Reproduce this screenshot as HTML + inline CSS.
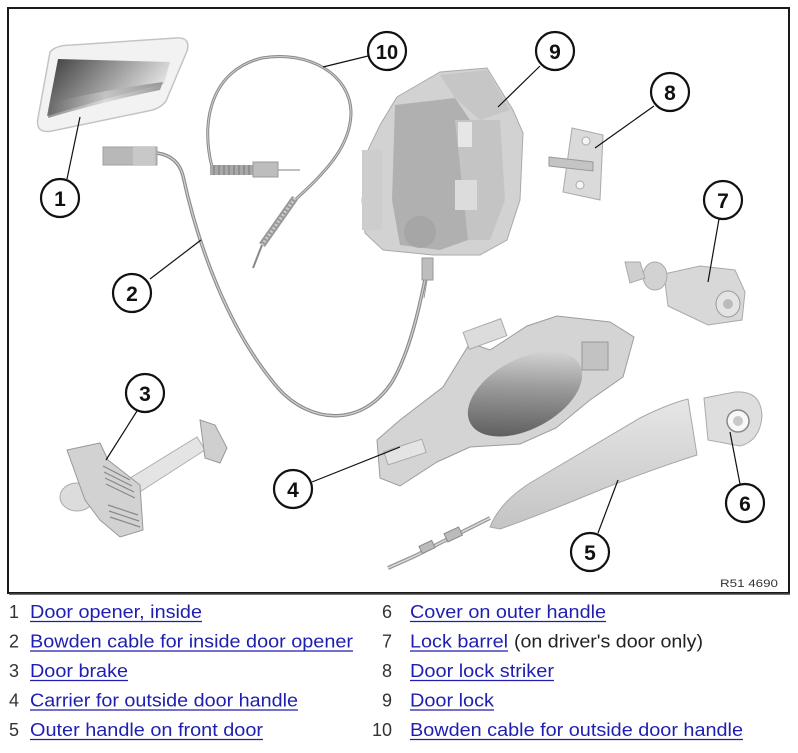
<!DOCTYPE html>
<html><head><meta charset="utf-8"><style>
html,body{margin:0;padding:0;background:#fff;}
body{width:798px;height:753px;overflow:hidden;}
svg{display:block;}
</style></head><body>
<svg width="798" height="753" viewBox="0 0 798 753" xmlns="http://www.w3.org/2000/svg">
<defs>
<linearGradient id="g1" x1="0" y1="0" x2="1" y2="0.4">
<stop offset="0" stop-color="#3a3a3a"/><stop offset="0.45" stop-color="#8a8a8a"/><stop offset="1" stop-color="#e8e8e8"/></linearGradient>
<linearGradient id="g1b" x1="0" y1="0" x2="1" y2="0">
<stop offset="0" stop-color="#666"/><stop offset="0.5" stop-color="#d0d0d0"/><stop offset="1" stop-color="#777"/></linearGradient>
<linearGradient id="g4" x1="0" y1="1" x2="1" y2="0">
<stop offset="0" stop-color="#4a4a4a"/><stop offset="0.55" stop-color="#9a9a9a"/><stop offset="1" stop-color="#eeeeee"/></linearGradient>
<linearGradient id="g5" x1="0" y1="0" x2="0" y2="1">
<stop offset="0" stop-color="#e6e6e6"/><stop offset="1" stop-color="#c4c4c4"/></linearGradient>
</defs>

<!-- frame -->
<rect x="8" y="8" width="781" height="585" fill="#fff" stroke="#1a1a1a" stroke-width="2"/>
<line x1="9" y1="594" x2="790" y2="594" stroke="#444" stroke-width="1.5"/>

<!-- Part 1: inside door opener -->
<path d="M50,52 Q56,45 72,45 L176,38 Q191,37 187,51 L166,101 Q160,109 148,111 L52,131 Q35,134 38,118 Z" fill="#f2f2f2" stroke="#c4c4c4" stroke-width="1.5"/>
<path d="M58,59 L170,62 L164,84 Q130,92 95,102 L47,116 Z" fill="url(#g1)"/>
<path d="M50,104 Q90,92 163,82 L160,90 Q110,100 48,118 Z" fill="url(#g1b)" opacity="0.7"/>

<!-- Part 2: inside Bowden cable -->
<rect x="103" y="147" width="54" height="18" fill="#b8b8b8" stroke="#a0a0a0"/>
<rect x="133" y="147" width="22" height="18" fill="#c8c8c8"/>
<path d="M157,153 Q178,156 183,176 C198,245 228,330 278,388 C310,424 362,428 392,382 C410,352 420,305 427,270" fill="none" stroke="#8a8a8a" stroke-width="3.5"/>
<path d="M157,153 Q178,156 183,176 C198,245 228,330 278,388 C310,424 362,428 392,382 C410,352 420,305 427,270" fill="none" stroke="#cfcfcf" stroke-width="1.3"/>

<!-- Part 10: outside Bowden cable -->
<path d="M212,167 C200,120 212,70 262,58 C310,50 350,75 351,112 C351,148 322,175 295,200" fill="none" stroke="#8a8a8a" stroke-width="3"/>
<path d="M212,167 C200,120 212,70 262,58 C310,50 350,75 351,112 C351,148 322,175 295,200" fill="none" stroke="#d0d0d0" stroke-width="1"/>
<rect x="210" y="165" width="44" height="10" fill="#a8a8a8"/>
<g stroke="#777" stroke-width="1">
<line x1="214" y1="165" x2="214" y2="175"/><line x1="219" y1="165" x2="219" y2="175"/><line x1="224" y1="165" x2="224" y2="175"/><line x1="229" y1="165" x2="229" y2="175"/><line x1="234" y1="165" x2="234" y2="175"/><line x1="239" y1="165" x2="239" y2="175"/><line x1="244" y1="165" x2="244" y2="175"/><line x1="249" y1="165" x2="249" y2="175"/></g>
<rect x="253" y="162" width="25" height="15" fill="#bdbdbd" stroke="#999"/>
<line x1="278" y1="170" x2="300" y2="170" stroke="#999" stroke-width="1.2"/>
<path d="M295,198 L262,245" stroke="#9a9a9a" stroke-width="7"/>
<path d="M295,198 L262,245" stroke="#cfcfcf" stroke-width="3" stroke-dasharray="2 2"/>
<line x1="262" y1="245" x2="253" y2="268" stroke="#888" stroke-width="2"/>

<!-- Part 9: door lock -->
<path d="M365,233 L362,200 L368,150 L380,125 L397,97 L440,72 L487,68 L513,110 L523,133 L520,200 L507,240 L480,255 L433,255 L383,250 Z" fill="#d2d2d2" stroke="#aaa" stroke-width="1"/>
<path d="M395,105 L455,98 L470,120 L468,240 L440,250 L400,245 L392,200 Z" fill="#b0b0b0"/>
<path d="M455,120 L500,120 L505,200 L490,240 L468,240 Z" fill="#c4c4c4"/>
<circle cx="420" cy="232" r="16" fill="#a6a6a6"/>
<rect x="455" y="180" width="22" height="30" fill="#dcdcdc"/>
<rect x="458" y="122" width="14" height="25" fill="#e6e6e6"/>
<rect x="362" y="150" width="20" height="80" fill="#cdcdcd"/>
<path d="M440,75 L487,70 L510,110 L480,120 L455,98 Z" fill="#c6c6c6"/>
<rect x="422" y="258" width="11" height="22" fill="#bdbdbd" stroke="#999"/>
<line x1="427" y1="280" x2="424" y2="298" stroke="#999" stroke-width="1"/>

<!-- Part 8: striker -->
<path d="M572,128 L603,135 L600,200 L563,192 Z" fill="#dadada" stroke="#aaa"/>
<path d="M549,157 L593,162 L593,171 L549,166 Z" fill="#c4c4c4" stroke="#999"/>
<circle cx="586" cy="141" r="4" fill="#f4f4f4" stroke="#aaa"/>
<circle cx="580" cy="185" r="4" fill="#f4f4f4" stroke="#aaa"/>

<!-- Part 7: lock barrel -->
<path d="M664,274 L700,266 L735,270 L745,292 L742,320 L708,325 L668,306 Z" fill="#d8d8d8" stroke="#aaa"/>
<ellipse cx="655" cy="276" rx="12" ry="14" fill="#d2d2d2" stroke="#aaa"/>
<path d="M625,262 L640,262 L645,278 L630,283 Z" fill="#cfcfcf" stroke="#aaa"/>
<ellipse cx="728" cy="304" rx="12" ry="13" fill="#e4e4e4" stroke="#999"/>
<circle cx="728" cy="304" r="5" fill="#bbb"/>

<!-- Part 4: carrier -->
<path d="M377,440 L380,478 L400,486 L437,462 L470,447 L520,444 L556,428 L590,400 L623,377 L634,337 L610,322 L557,316 L527,326 L490,350 L470,343 L443,387 L400,420 Z" fill="#d4d4d4" stroke="#9c9c9c"/>
<rect x="465" y="325" width="40" height="18" fill="#dcdcdc" stroke="#aaa" transform="rotate(-20 485 334)"/>
<ellipse cx="525" cy="394" rx="62" ry="35" transform="rotate(-28 525 394)" fill="url(#g4)"/>
<rect x="385" y="445" width="40" height="14" fill="#e4e4e4" stroke="#aaa" transform="rotate(-18 405 452)"/>
<rect x="582" y="342" width="26" height="28" fill="#c2c2c2" stroke="#999"/>

<!-- Part 5: outer handle -->
<path d="M490,527 Q500,502 530,483 L640,418 Q668,404 688,399 L697,455 Q650,470 600,490 Q540,515 500,529 Z" fill="url(#g5)" stroke="#a8a8a8"/>
<path d="M490,518 L470,528 L440,543 L415,556 L388,568" stroke="#999" stroke-width="4" fill="none"/>
<path d="M490,518 L470,528 L440,543 L415,556 L388,568" stroke="#ddd" stroke-width="1.5" fill="none"/>
<rect x="445" y="530" width="16" height="9" fill="#bbb" stroke="#888" transform="rotate(-25 453 534)"/>
<rect x="420" y="543" width="14" height="8" fill="#bbb" stroke="#888" transform="rotate(-25 427 547)"/>

<!-- Part 6: cover -->
<path d="M704,398 L735,392 Q761,390 762,416 Q760,441 740,446 L708,440 Z" fill="#dedede" stroke="#aaa"/>
<circle cx="738" cy="421" r="11" fill="#f8f8f8" stroke="#888" stroke-width="1.5"/>
<circle cx="738" cy="421" r="5" fill="#c8c8c8"/>

<!-- Part 3: door brake -->
<path d="M127,480 L197,437 L205,450 L135,495 Z" fill="#e4e4e4" stroke="#b0b0b0"/>
<path d="M200,420 L215,425 L227,448 L220,463 L205,458 Z" fill="#cfcfcf" stroke="#999"/>
<ellipse cx="77" cy="497" rx="17" ry="14" fill="#dcdcdc" stroke="#aaa"/>
<path d="M67,450 L100,443 L108,460 L140,485 L143,530 L120,537 L100,520 L85,500 Z" fill="#d2d2d2" stroke="#999"/>
<g stroke="#888" stroke-width="1.2">
<line x1="103" y1="466" x2="130" y2="480"/><line x1="104" y1="472" x2="132" y2="486"/><line x1="105" y1="478" x2="134" y2="492"/><line x1="106" y1="484" x2="135" y2="498"/><line x1="108" y1="505" x2="138" y2="515"/><line x1="109" y1="511" x2="139" y2="521"/><line x1="110" y1="517" x2="140" y2="527"/></g>

<!-- leader lines -->
<g stroke="#111" stroke-width="1.2">
<line x1="67" y1="179" x2="80" y2="117"/>
<line x1="150" y1="279" x2="201" y2="240"/>
<line x1="137" y1="411" x2="106" y2="460"/>
<line x1="312" y1="482" x2="400" y2="447"/>
<line x1="598" y1="533" x2="618" y2="480"/>
<line x1="740" y1="484" x2="730" y2="432"/>
<line x1="719" y1="219" x2="708" y2="282"/>
<line x1="654" y1="106" x2="595" y2="148"/>
<line x1="540" y1="66" x2="498" y2="107"/>
<line x1="368" y1="56" x2="323" y2="67"/>
</g>

<!-- callout circles -->
<g fill="#fff" stroke="#111" stroke-width="2.2">
<circle cx="60" cy="198" r="19"/>
<circle cx="132" cy="293" r="19"/>
<circle cx="145" cy="393" r="19"/>
<circle cx="293" cy="489" r="19"/>
<circle cx="590" cy="552" r="19"/>
<circle cx="745" cy="503" r="19"/>
<circle cx="723" cy="200" r="19"/>
<circle cx="670" cy="92" r="19"/>
<circle cx="555" cy="51" r="19"/>
<circle cx="387" cy="51" r="19"/>
</g>
<g font-family="Liberation Sans, Arial, sans-serif" font-weight="bold" font-size="21" fill="#111" text-anchor="middle">
<text x="60" y="206">1</text>
<text x="132" y="301">2</text>
<text x="145" y="401">3</text>
<text x="293" y="497">4</text>
<text x="590" y="560">5</text>
<text x="745" y="511">6</text>
<text x="723" y="208">7</text>
<text x="670" y="100">8</text>
<text x="555" y="59">9</text>
<text x="387" y="59" font-size="20">10</text>
</g>

<text x="720" y="587" font-family="Liberation Sans, Arial, sans-serif" font-size="11" fill="#333" textLength="58" lengthAdjust="spacingAndGlyphs">R51 4690</text>

<!-- legend -->
<g font-family="Liberation Sans, Arial, sans-serif" font-size="18" fill="#333" text-anchor="end">
<text x="19" y="618">1</text>
<text x="19" y="647.5">2</text>
<text x="19" y="677">3</text>
<text x="19" y="706.5">4</text>
<text x="19" y="736">5</text>
<text x="392" y="618">6</text>
<text x="392" y="647.5">7</text>
<text x="392" y="677">8</text>
<text x="392" y="706.5">9</text>
<text x="392" y="736">10</text>
</g>
<g font-family="Liberation Sans, Arial, sans-serif" font-size="18" fill="#1e1eb0">
<text x="30" y="618" textLength="172" lengthAdjust="spacingAndGlyphs">Door opener, inside</text>
<text x="30" y="647.5" textLength="323" lengthAdjust="spacingAndGlyphs">Bowden cable for inside door opener</text>
<text x="30" y="677" textLength="98" lengthAdjust="spacingAndGlyphs">Door brake</text>
<text x="30" y="706.5" textLength="268" lengthAdjust="spacingAndGlyphs">Carrier for outside door handle</text>
<text x="30" y="736" textLength="233" lengthAdjust="spacingAndGlyphs">Outer handle on front door</text>
<text x="410" y="618" textLength="196" lengthAdjust="spacingAndGlyphs">Cover on outer handle</text>
<text x="410" y="647.5" textLength="98" lengthAdjust="spacingAndGlyphs">Lock barrel</text>
<text x="410" y="677" textLength="144" lengthAdjust="spacingAndGlyphs">Door lock striker</text>
<text x="410" y="706.5" textLength="84" lengthAdjust="spacingAndGlyphs">Door lock</text>
<text x="410" y="736" textLength="333" lengthAdjust="spacingAndGlyphs">Bowden cable for outside door handle</text>
</g>
<text x="514" y="647.5" font-family="Liberation Sans, Arial, sans-serif" font-size="18" fill="#222" textLength="189" lengthAdjust="spacingAndGlyphs">(on driver's door only)</text>
<g stroke="#1e1eb0" stroke-width="1.3">
<line x1="30" y1="621.5" x2="202" y2="621.5"/>
<line x1="30" y1="651" x2="353" y2="651"/>
<line x1="30" y1="680.5" x2="128" y2="680.5"/>
<line x1="30" y1="710" x2="298" y2="710"/>
<line x1="30" y1="739.5" x2="263" y2="739.5"/>
<line x1="410" y1="621.5" x2="606" y2="621.5"/>
<line x1="410" y1="651" x2="508" y2="651"/>
<line x1="410" y1="680.5" x2="554" y2="680.5"/>
<line x1="410" y1="710" x2="494" y2="710"/>
<line x1="410" y1="739.5" x2="743" y2="739.5"/>
</g>
</svg>
</body></html>
